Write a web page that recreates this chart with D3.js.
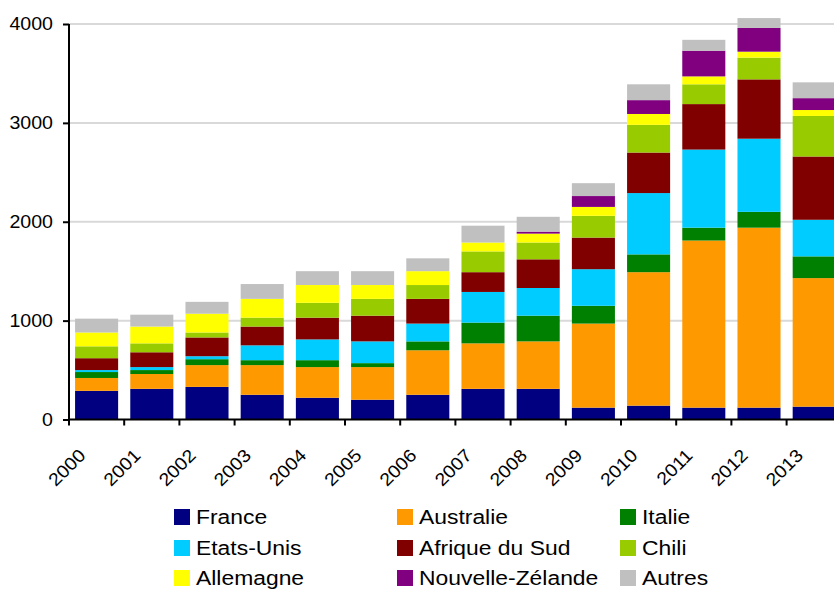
<!DOCTYPE html>
<html>
<head>
<meta charset="utf-8">
<script src="https://cdn.jsdelivr.net/npm/d3@7"></script>
<style>
	body { margin: 0; background: #fff; }
	svg text { font-family: "Liberation Sans", Arial, sans-serif; fill: #000; }
</style>
</head>
<body>
<div class="chart"></div>
<script>
// data
const years = ['2000', '2001', '2002', '2003', '2004', '2005', '2006', '2007', '2008', '2009', '2010', '2011', '2012', '2013'];
const france        = [290, 310, 330, 250, 220, 200, 250, 310, 310, 120, 140, 120, 120, 130];
const australie     = [130, 150, 220, 300, 310, 330, 450, 460, 480, 850, 1350, 1690, 1820, 1300];
const italie        = [60, 40, 60, 50, 70, 40, 90, 210, 260, 180, 180, 130, 160, 220];
const etatsUnis     = [20, 30, 30, 150, 210, 220, 180, 310, 280, 370, 620, 790, 740, 370];
const afriqueDuSud  = [120, 150, 190, 190, 220, 260, 250, 200, 290, 320, 410, 460, 600, 640];
const chili         = [120, 90, 50, 90, 150, 170, 140, 210, 170, 220, 280, 200, 220, 410];
const allemagne     = [140, 170, 190, 190, 180, 140, 140, 90, 90, 90, 110, 80, 60, 60];
const nouvelleZel   = [0, 0, 0, 0, 0, 0, 0, 0, 20, 110, 140, 260, 240, 120];
const autres        = [140, 120, 120, 150, 140, 140, 130, 170, 150, 130, 160, 110, 100, 160];

const seriesNames = ['France', 'Australie', 'Italie', 'Etats-Unis', 'Afrique du Sud', 'Chili', 'Allemagne', 'Nouvelle-Zélande', 'Autres'];
const seriesValues = [france, australie, italie, etatsUnis, afriqueDuSud, chili, allemagne, nouvelleZel, autres];
const colors = ['#000080', '#FF9900', '#008000', '#00CCFF', '#800000', '#99CC00', '#FFFF00', '#800080', '#C0C0C0'];
const yTicks = [0, 1000, 2000, 3000, 4000];

const width = 834, height = 590;
const margin = { left: 69, top: 24 };

// table for d3.stack
const rows = years.map((yr, i) => {
	let r = { year: yr };
	seriesNames.forEach((s, j) => { r[s] = seriesValues[j][i]; });
	return r;
});
const stacked = d3.stack().keys(seriesNames)(rows);

const x = d3.scaleBand().domain(years)
	.range([margin.left, margin.left + 14 * 55.2])
	.paddingInner(0.22).paddingOuter(0.11);
const y = d3.scaleLinear().domain([0, 4000]).range([419.5, margin.top]);

const svg = d3.select('.chart').append('svg')
	.attr('width', width)
	.attr('height', height);

// grid lines
svg.append('g').selectAll('line')
	.data(yTicks.filter(d => d > 0))
	.enter().append('line')
	.attr('x1', margin.left).attr('x2', width)
	.attr('y1', d => y(d)).attr('y2', d => y(d))
	.style('stroke', '#d9d9d9')
	.style('stroke-width', 2);

// bars
svg.append('g').selectAll('g')
	.data(stacked)
	.enter().append('g')
	.style('fill', (d, i) => colors[i])
	.selectAll('rect')
	.data(d => d)
	.enter().append('rect')
	.attr('x', d => x(d.data.year))
	.attr('width', x.bandwidth())
	.attr('y', d => y(d[1]))
	.attr('height', d => y(d[0]) - y(d[1]));

// y axis
const yAxis = svg.append('g')
	.attr('transform', 'translate(' + margin.left + ',0)')
	.call(d3.axisLeft(y).tickValues(yTicks).tickSize(6).tickPadding(10).tickFormat(d3.format('d')));
yAxis.select('.domain').style('stroke', '#000').style('stroke-width', 2).attr('d', 'M0,' + y(4000) + 'V' + (y(0) + 1));
yAxis.selectAll('.tick line').style('stroke', '#000').style('stroke-width', 2);
yAxis.selectAll('.tick text')
	.style('font-size', '18px')
	.attr('transform', 'translate(-16,0) scale(1.09,1) translate(16,0)');

// x axis: ticks at category boundaries
const xAxisG = svg.append('g');
xAxisG.append('line')
	.attr('x1', margin.left).attr('x2', width)
	.attr('y1', y(0)).attr('y2', y(0))
	.style('stroke', '#000').style('stroke-width', 2);
xAxisG.selectAll('.xtick')
	.data(years)
	.enter().append('line')
	.attr('x1', d => x(d) - x.step() * 0.11).attr('x2', d => x(d) - x.step() * 0.11)
	.attr('y1', y(0)).attr('y2', y(0) + 6)
	.style('stroke', '#000').style('stroke-width', 2);
xAxisG.selectAll('text')
	.data(years)
	.enter().append('text')
	.attr('transform', d => 'translate(' + (x(d) + x.bandwidth() / 2 - 10) + ',' + (y(0) + 37) + ') rotate(-45) scale(1.09,1)')
	.attr('text-anchor', 'end')
	.style('font-size', '18px')
	.text(d => d);

// legend
const legend = svg.append('g').selectAll('g')
	.data(seriesNames)
	.enter().append('g')
	.attr('transform', (d, i) => 'translate(' + (174 + (i % 3) * 223) + ',' + [509, 540, 570][Math.floor(i / 3)] + ')');
legend.append('rect')
	.attr('width', 16).attr('height', 16)
	.style('fill', (d, i) => colors[i]);
legend.append('text')
	.attr('transform', 'translate(22,15) scale(1.09,1)')
	.style('font-size', '21px')
	.text(d => d);
</script>
</body>
</html>
